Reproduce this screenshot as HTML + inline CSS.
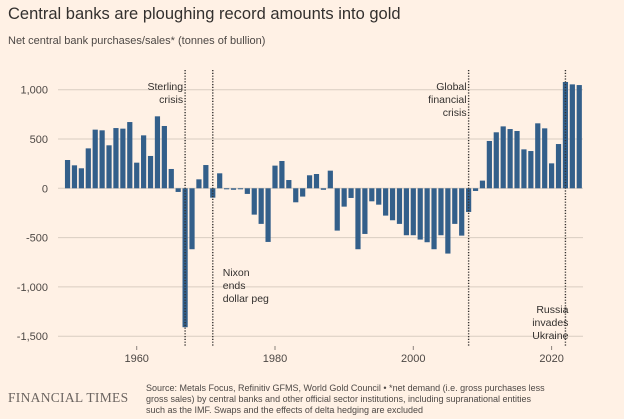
<!DOCTYPE html>
<html><head><meta charset="utf-8"><style>
body{margin:0;background:#fff1e5;width:624px;height:419px;overflow:hidden;font-family:"Liberation Sans",sans-serif;}
svg{position:absolute;left:0;top:0}
</style></head><body>
<svg width="624" height="419">
<text x="8" y="19" font-size="16.5" fill="#33302e">Central banks are ploughing record amounts into gold</text>
<text x="8" y="44" font-size="11" fill="#4d4845">Net central bank purchases/sales* (tonnes of bullion)</text>
<g id="grid"></g><g id="bars"></g><g id="events"></g><g id="xaxis"></g>
<text x="8" y="402" font-size="13.5" fill="#6b6460" font-family="Liberation Serif,serif" letter-spacing="0.3">FINANCIAL TIMES</text>
<g font-size="9" fill="#4d4845">
<text x="146" y="391">Source: Metals Focus, Refinitiv GFMS, World Gold Council • *net demand (i.e. gross purchases less</text>
<text x="146" y="402">gross sales) by central banks and other official sector institutions, including supranational entities</text>
<text x="146" y="413">such as the IMF. Swaps and the effects of delta hedging are excluded</text>
</g>
</svg>
<script>
const years=[];for(let y=1950;y<=2024;y++)years.push(y);
const values=[287,233,203,405,595,588,436,611,605,672,260,537,328,730,632,196,-37,-1409,-618,91,236,-95,152,-5,-15,-10,-57,-267,-361,-544,230,277,84,-142,-84,132,145,-15,179,-429,-186,-98,-618,-463,-132,-166,-277,-324,-361,-476,-476,-520,-547,-618,-476,-662,-361,-480,-240,-27,78,480,568,628,601,581,395,378,659,608,253,449,1078,1054,1047];
const yTicks=[1000,500,0,-500,-1000,-1500];
const yTickLabels=["1,000","500","0","-500","-1,000","-1,500"];
const xTicks=[1960,1980,2000,2020];
const eventYears=[1967,1971,2008,2022];
const NS="http://www.w3.org/2000/svg";
const X=y=>136.7+(y-1960)*6.915;
const Y=v=>188.3-v*0.0986;
function mk(t,a,p){const e=document.createElementNS(NS,t);for(const k in a)e.setAttribute(k,a[k]);p.appendChild(e);return e;}
const g=document.getElementById('grid');
yTicks.forEach((v,i)=>{
 const l=mk('line',{x1:58,x2:583,y1:Y(v),y2:Y(v),stroke:'#d9cdc1','stroke-width':1},g);
 
 
 const t=mk('text',{x:48,y:Y(v)+4,'text-anchor':'end','font-size':11,fill:'#4d4845'},g);
 t.textContent=yTickLabels[i];
 
 
});
const b=document.getElementById('bars');
years.forEach((yr,i)=>{
 const v=values[i];
 const r=mk('rect',{x:X(yr)-2.6,y:Math.min(Y(v),Y(0)),width:5.2,height:Math.max(Math.abs(Y(v)-Y(0)),1),fill:'#335f8a'},b);
 
 
});
const ev=document.getElementById('events');
eventYears.forEach(yr=>{
 const l=mk('line',{x1:X(yr),x2:X(yr),y1:70,y2:347,stroke:'#33302e','stroke-width':1.4,'stroke-dasharray':'1.2 1.6'},ev);
 
 
});
function ann(lines,x,y,anchor,name){
 lines.forEach((s,i)=>{const t=mk('text',{x:x,y:y+i*13,'text-anchor':anchor,'font-size':10.5,fill:'#33302e'},ev);t.textContent=s;
 
 });
}
ann(["Sterling","crisis"],X(1967)-2,90,'end','annotation-sterling');
ann(["Nixon","ends","dollar peg"],X(1971)+10,276,'start','annotation-nixon');
ann(["Global","financial","crisis"],X(2008)-2,90,'end','annotation-gfc');
ann(["Russia","invades","Ukraine"],X(2022)+3,313,'end','annotation-russia');
const xa=document.getElementById('xaxis');
xTicks.forEach(yr=>{
 const l=mk('line',{x1:X(yr),x2:X(yr),y1:346,y2:350,stroke:'#8a827c'},xa);
 
 
 const t=mk('text',{x:X(yr),y:362,'text-anchor':'middle','font-size':11,fill:'#4d4845'},xa);
 t.textContent=yr;
 
 
});
</script>
</body></html>
